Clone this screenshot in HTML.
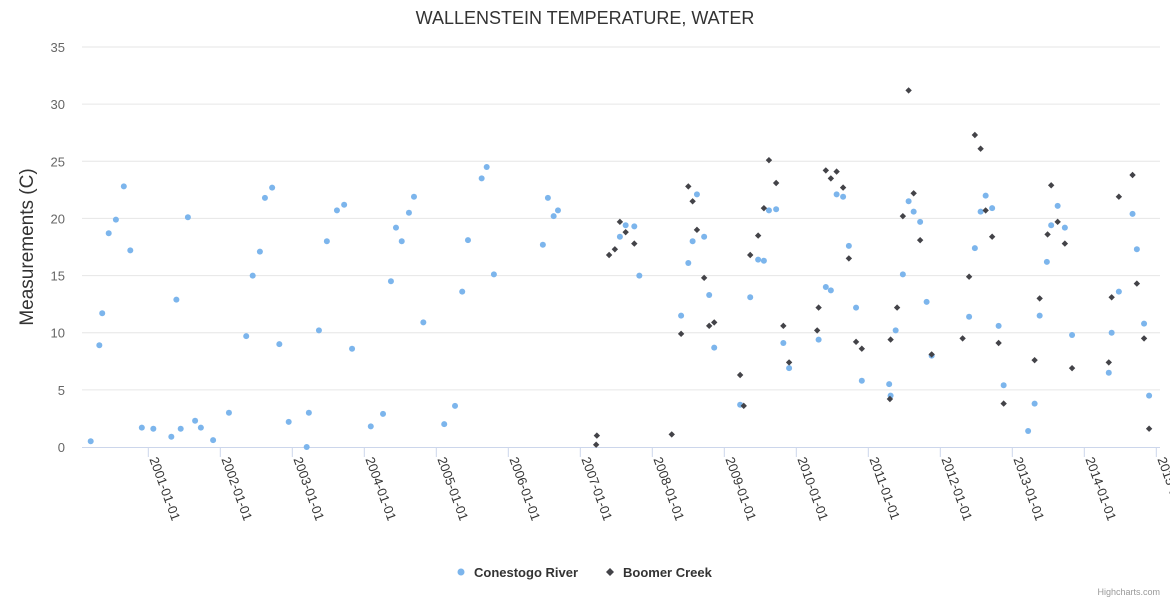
<!DOCTYPE html>
<html><head><meta charset="utf-8"><style>
body{margin:0;background:#fff;}
svg{display:block;font-family:"Liberation Sans",sans-serif;}
</style></head><body>
<svg id="chart" width="1170" height="600" viewBox="0 0 1170 600" xmlns="http://www.w3.org/2000/svg">
<text x="585" y="24" text-anchor="middle" font-size="18" fill="#333">WALLENSTEIN TEMPERATURE, WATER</text>
<text transform="translate(33,247) rotate(-90)" text-anchor="middle" font-size="19" fill="#333">Measurements (C)</text>
<g id="grid"></g><g id="xaxis"></g><g id="marks"></g>
<g>
<g><circle cx="461" cy="572" r="3.5" fill="#7cb5ec"/><text x="474" y="577" font-size="13" font-weight="bold" fill="#333">Conestogo River</text></g>
<g><path d="M610 568 L614 572 L610 576 L606 572 Z" fill="#434348"/><text x="623" y="577" font-size="13" font-weight="bold" fill="#333">Boomer Creek</text></g>
</g>
<text x="1160" y="595" text-anchor="end" font-size="9" fill="#999">Highcharts.com</text>
</svg>
<script>
const yTicks=[0,5,10,15,20,25,30,35];
const xTickYears=[2001,2002,2003,2004,2005,2006,2007,2008,2009,2010,2011,2012,2013,2014,2015];
const conestogoX=[2000.20,2000.32,2000.36,2000.45,2000.55,2000.66,2000.75,2000.91,2001.07,2001.32,2001.39,2001.45,2001.55,2001.65,2001.73,2001.90,2002.12,2002.36,2002.45,2002.55,2002.62,2002.72,2002.82,2002.95,2003.20,2003.23,2003.37,2003.48,2003.62,2003.72,2003.83,2004.09,2004.26,2004.37,2004.44,2004.52,2004.62,2004.69,2004.82,2005.11,2005.26,2005.36,2005.44,2005.63,2005.70,2005.80,2006.48,2006.55,2006.63,2006.69,2007.55,2007.63,2007.75,2007.82,2008.40,2008.50,2008.56,2008.62,2008.72,2008.79,2008.86,2009.22,2009.36,2009.47,2009.55,2009.62,2009.72,2009.82,2009.90,2010.31,2010.41,2010.48,2010.56,2010.65,2010.73,2010.83,2010.91,2011.29,2011.31,2011.38,2011.48,2011.56,2011.63,2011.72,2011.81,2011.88,2012.40,2012.48,2012.56,2012.63,2012.72,2012.81,2012.88,2013.22,2013.31,2013.38,2013.48,2013.54,2013.63,2013.73,2013.83,2014.34,2014.38,2014.48,2014.67,2014.73,2014.83,2014.90];
const conestogoY=[0.5,8.9,11.7,18.7,19.9,22.8,17.2,1.7,1.6,0.9,12.9,1.6,20.1,2.3,1.7,0.6,3.0,9.7,15.0,17.1,21.8,22.7,9.0,2.2,0,3.0,10.2,18.0,20.7,21.2,8.6,1.8,2.9,14.5,19.2,18.0,20.5,21.9,10.9,2.0,3.6,13.6,18.1,23.5,24.5,15.1,17.7,21.8,20.2,20.7,18.4,19.4,19.3,15.0,11.5,16.1,18.0,22.1,18.4,13.3,8.7,3.7,13.1,16.4,16.3,20.7,20.8,9.1,6.9,9.4,14.0,13.7,22.1,21.9,17.6,12.2,5.8,5.5,4.5,10.2,15.1,21.5,20.6,19.7,12.7,8.0,11.4,17.4,20.6,22.0,20.9,10.6,5.4,1.4,3.8,11.5,16.2,19.4,21.1,19.2,9.8,6.5,10.0,13.6,20.4,17.3,10.8,4.5];
const boomerX=[2007.22,2007.23,2007.40,2007.48,2007.55,2007.63,2007.75,2008.27,2008.40,2008.50,2008.56,2008.62,2008.72,2008.79,2008.86,2009.22,2009.27,2009.36,2009.47,2009.55,2009.62,2009.72,2009.82,2009.90,2010.29,2010.31,2010.41,2010.48,2010.56,2010.65,2010.73,2010.83,2010.91,2011.30,2011.31,2011.40,2011.48,2011.56,2011.63,2011.72,2011.88,2012.31,2012.40,2012.48,2012.56,2012.63,2012.72,2012.81,2012.88,2013.31,2013.38,2013.49,2013.54,2013.63,2013.73,2013.83,2014.34,2014.38,2014.48,2014.67,2014.73,2014.83,2014.90];
const boomerY=[0.2,1.0,16.8,17.3,19.7,18.8,17.8,1.1,9.9,22.8,21.5,19.0,14.8,10.6,10.9,6.3,3.6,16.8,18.5,20.9,25.1,23.1,10.6,7.4,10.2,12.2,24.2,23.5,24.1,22.7,16.5,9.2,8.6,4.2,9.4,12.2,20.2,31.2,22.2,18.1,8.1,9.5,14.9,27.3,26.1,20.7,18.4,9.1,3.8,7.6,13.0,18.6,22.9,19.7,17.8,6.9,7.4,13.1,21.9,23.8,14.3,9.5,1.6];
const NS='http://www.w3.org/2000/svg';
function xPos(v){return 148.3+(v-2001)*72;}
function yPos(v){return 447-v*400/35;}
function mk(t,a,p){const e=document.createElementNS(NS,t);for(const k in a)e.setAttribute(k,a[k]);p.appendChild(e);return e;}
const grid=document.getElementById('grid'),xa=document.getElementById('xaxis'),marks=document.getElementById('marks');
yTicks.forEach(v=>{
  if(v>0){const l=mk('line',{x1:82,x2:1160,y1:yPos(v),y2:yPos(v),stroke:'#e6e6e6'},grid);
  
  }
  const t=mk('text',{x:65,y:yPos(v)+5,'text-anchor':'end','font-size':13,fill:'#666'},grid);
  t.textContent=v;
  
  
});
const ax=mk('line',{x1:82,x2:1160,y1:447.5,y2:447.5,stroke:'#ccd6eb'},xa);


xTickYears.forEach(y=>{
  const x=xPos(y);
  mk('line',{x1:x,x2:x,y1:447,y2:457,stroke:'#ccd6eb'},xa);
  const t=mk('text',{transform:'translate('+(x+1)+',459) rotate(70)','font-size':13,fill:'#333'},xa);
  t.textContent=y+'-01-01';
  
  
});
conestogoX.forEach((v,i)=>{
  const c=mk('circle',{cx:xPos(v),cy:yPos(conestogoY[i]),r:3,fill:'#7cb5ec'},marks);
  
  
});
boomerX.forEach((v,i)=>{
  const x=xPos(v),y=yPos(boomerY[i]);
  const d=mk('path',{d:'M'+x+' '+(y-3.2)+' L'+(x+3.2)+' '+y+' L'+x+' '+(y+3.2)+' L'+(x-3.2)+' '+y+' Z',fill:'#434348'},marks);
  
  
});
</script>
</body></html>
